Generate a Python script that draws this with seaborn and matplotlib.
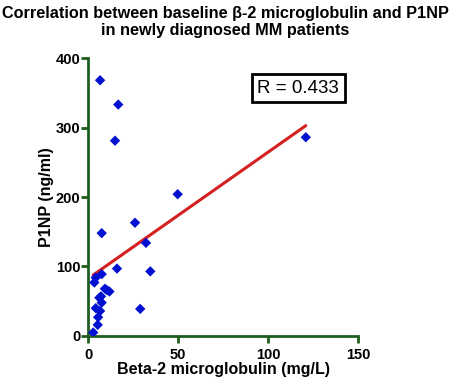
import numpy as np
import pandas as pd
import matplotlib
matplotlib.use('Agg')
import matplotlib.pyplot as plt
import seaborn as sns

# values
b2m = [6.7, 16.8, 15.0, 49.8, 26.1, 7.6, 32.2, 16.1, 34.6, 7.6, 4.3, 3.5,
       9.4, 11.9, 10.5, 7.2, 6.3, 7.6, 4.3, 6.7, 29.0, 5.6, 5.4, 2.9, 121.0]
p1np = [368, 333, 281, 204, 163, 148, 134, 97, 93, 89, 84, 77,
        68, 64, 66, 57, 55, 48, 40, 36, 39, 27, 16, 5, 286]
r_text = 'R = 0.433'
title = 'Correlation between baseline \u03b2-2 microglobulin and P1NP\nin newly diagnosed MM patients'
x_label = 'Beta-2 microglobulin (mg/L)'
y_label = 'P1NP (ng/ml)'
x_ticks = [0, 50, 100, 150]
y_ticks = [0, 100, 200, 300, 400]

data = pd.DataFrame({'b2m': b2m, 'p1np': p1np})

sns.set_style('white')
plt.rcParams['font.family'] = ['Liberation Sans', 'DejaVu Sans']
plt.rcParams['text.color'] = 'black'
plt.rcParams['axes.labelcolor'] = 'black'
plt.rcParams['xtick.color'] = 'black'
plt.rcParams['ytick.color'] = 'black'

axis_green = '#1e5e1e'

fig = plt.figure(figsize=(4.5, 3.85), dpi=100)
ax = fig.add_axes([0.1956, 0.1273, 0.60, 0.722])

sns.regplot(data=data, x='b2m', y='p1np', ci=None, ax=ax,
            marker='D', truncate=True,
            scatter_kws={'s': 28, 'color': '#0010d0', 'alpha': 1,
                         'edgecolors': 'none', 'zorder': 3},
            line_kws={'color': '#d42020', 'linewidth': 2.2, 'zorder': 2})

ax.set_xlim(0, 150)
ax.set_ylim(0, 400)
ax.set_xticks(x_ticks)
ax.set_yticks(y_ticks)
sns.despine(ax=ax)
for side in ['left', 'bottom']:
    ax.spines[side].set_color(axis_green)
    ax.spines[side].set_linewidth(2)
ax.tick_params(axis='both', direction='out', length=5, width=2, color=axis_green,
               labelcolor='black', labelsize=10.5, left=True, bottom=True)
ax.tick_params(axis='x', pad=4)
ax.tick_params(axis='y', pad=0.5)
for lab in ax.get_xticklabels() + ax.get_yticklabels():
    lab.set_fontweight('bold')

ax.set_xlabel(x_label, fontsize=11.5, fontweight='bold', labelpad=0)
ax.set_ylabel(y_label, fontsize=11.5, fontweight='bold', labelpad=1)

ax.text(0.778, 0.892, r_text, transform=ax.transAxes, ha='center', va='center',
        fontsize=13.5, bbox=dict(boxstyle='square,pad=0.3', facecolor='white',
                                 edgecolor='black', linewidth=2))

fig.suptitle(title, fontsize=11.7, fontweight='bold', y=0.985, linespacing=1.22)

fig.savefig('out.png', dpi=100)
